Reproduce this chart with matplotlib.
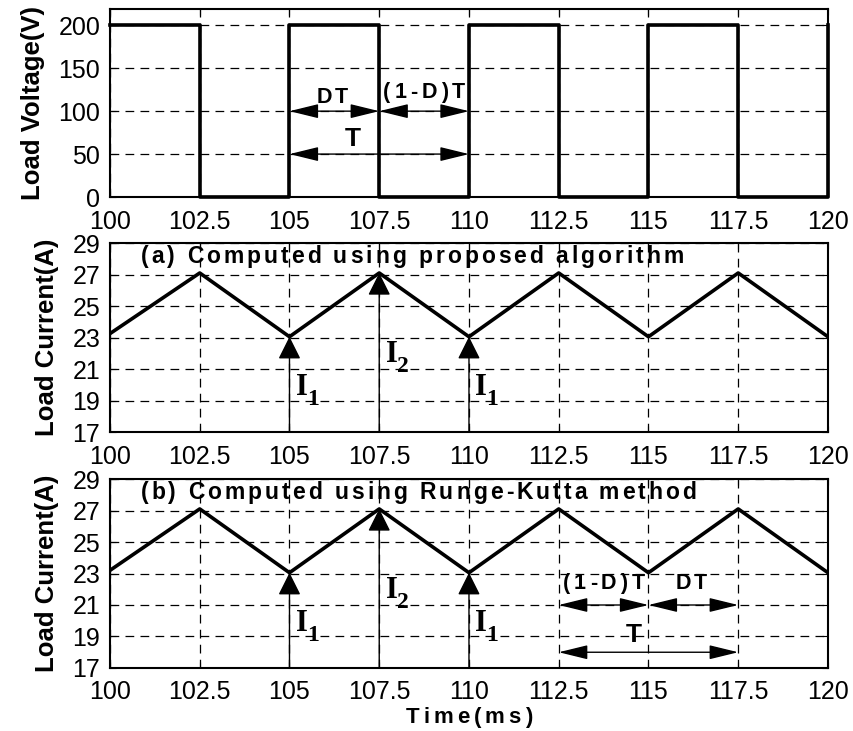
import numpy as np
import matplotlib
matplotlib.use("Agg")
from matplotlib import pyplot as plt
from matplotlib.transforms import ScaledTranslation

plt.rcParams['font.family'] = ['Liberation Sans', 'DejaVu Sans']

### data ###
time_v = [100, 102.5, 102.5, 105, 105, 107.5, 107.5, 110, 110,
          112.5, 112.5, 115, 115, 117.5, 117.5, 120, 120]
volt = [200, 200, 0, 0, 200, 200, 0, 0, 200,
        200, 0, 0, 200, 200, 0, 0, 200]

time_i = [100, 102.5, 105, 107.5, 110, 112.5, 115, 117.5, 120]
cur_a = [23.25, 27.1, 23.05, 27.1, 23.05, 27.1, 23.05, 27.1, 23.05]
cur_b = [23.2, 27.1, 23.05, 27.1, 23.05, 27.1, 23.05, 27.1, 23.05]

xticks = [100, 102.5, 105, 107.5, 110, 112.5, 115, 117.5, 120]
xticklabels = ['100', '102.5', '105', '107.5', '110', '112.5', '115', '117.5', '120']
vticks = [0, 50, 100, 150, 200]
iticks = [17, 19, 21, 23, 25, 27, 29]

fig = plt.figure(figsize=(8.54, 7.31), dpi=100)
ax_v = fig.add_axes([0.1288, 0.7305, 0.8407, 0.2572])
ax_a = fig.add_axes([0.1288, 0.409, 0.8407, 0.2585])
ax_b = fig.add_axes([0.1288, 0.0862, 0.8407, 0.2585])
renderer = fig.canvas.get_renderer()


def style(ax, yticks):
    ax.set_xlim(100, 120)
    ax.set_xticks(xticks)
    ax.set_xticklabels(xticklabels)
    ax.set_yticks(yticks)
    ax.tick_params(direction='in', top=True, right=True, labelsize=18,
                   length=4, pad=7)
    ax.tick_params(axis='x', pad=9)
    ax.grid(True, color='k', linestyle=(0, (7, 5)), linewidth=0.9)
    for s in ax.spines.values():
        s.set_linewidth(1.5)


### bold text with wide letter spacing, like the original ###
def spaced_text(ax, x, y, s, size, track, ha='left', trans=None):
    if trans is None:
        trans = ax.transData
    parts, widths = [], []
    for ch in s:
        t = ax.text(x, y, ch, fontsize=size, fontweight='bold', ha='left',
                    va='center', transform=trans)
        if ch == ' ':
            w = size * 0.278 * fig.dpi / 72.
        else:
            w = t.get_window_extent(renderer).width
        parts.append(t)
        widths.append(w)
    total = sum(widths) + track * (len(s) - 1)
    pos = -total / 2. if ha == 'center' else 0.
    for t, w in zip(parts, widths):
        t.set_transform(trans + ScaledTranslation(pos / fig.dpi, 0, fig.dpi_scale_trans))
        pos += w + track


def dbl_arrow(ax, x0, x1, y):
    ax.annotate('', xy=(x1, y), xytext=(x0, y),
                arrowprops=dict(arrowstyle='<|-|>,head_length=0.9,head_width=0.22',
                                mutation_scale=20, lw=1, color='k',
                                shrinkA=0, shrinkB=0))


def up_arrow(ax, x, y0, y1):
    ax.annotate('', xy=(x, y1), xytext=(x, y0),
                arrowprops=dict(arrowstyle='-|>,head_length=0.7,head_width=0.35',
                                mutation_scale=20, lw=1, color='k',
                                shrinkA=0, shrinkB=0))


def i_label(ax, x, y, n):
    ax.text(x, y, 'I', fontsize=22, fontweight='bold', family='Liberation Serif',
            ha='left', va='baseline')
    ax.annotate(str(n), xy=(x, y), xytext=(8, -7), textcoords='offset points',
                fontsize=17, fontweight='bold', family='Liberation Serif',
                ha='left', va='baseline')


# load voltage
ax_v.plot(time_v, volt, color='k', lw=2.6, clip_on=False)
style(ax_v, vticks)
ax_v.set_ylim(0, 219)
ax_v.set_ylabel('Load Voltage(V)', fontsize=18.5, fontweight='bold', labelpad=10)
dbl_arrow(ax_v, 105, 107.5, 100)
dbl_arrow(ax_v, 107.5, 110, 100)
dbl_arrow(ax_v, 105, 110, 50)
spaced_text(ax_v, 106.2, 116, 'DT', 15.5, 3, ha='center')
spaced_text(ax_v, 108.75, 122, '(1-D)T', 15.5, 4, ha='center')
ax_v.text(106.75, 68, 'T', fontsize=19, fontweight='bold', ha='center', va='center')

# (a) proposed algorithm
ax_a.plot(time_i, cur_a, color='k', lw=2.6)
style(ax_a, iticks)
ax_a.set_ylim(17, 29)
ax_a.set_ylabel('Load Current(A)', fontsize=18.5, fontweight='bold', labelpad=10)
spaced_text(ax_a, 100.85, 28.15, '(a) Computed using proposed algorithm', 16.5, 3)
up_arrow(ax_a, 105, 17, 23.05)
up_arrow(ax_a, 107.5, 17, 27.1)
up_arrow(ax_a, 110, 17, 23.05)
i_label(ax_a, 105.18, 19.35, 1)
i_label(ax_a, 107.68, 21.45, 2)
i_label(ax_a, 110.18, 19.35, 1)

# (b) Runge-Kutta
ax_b.plot(time_i, cur_b, color='k', lw=2.6)
style(ax_b, iticks)
ax_b.set_ylim(17, 29)
ax_b.set_ylabel('Load Current(A)', fontsize=18.5, fontweight='bold', labelpad=10)
spaced_text(ax_b, 100.85, 28.15, '(b) Computed using Runge-Kutta method', 16.5, 3)
spaced_text(ax_b, 0.5, -0.26, 'Time(ms)', 16, 4, ha='center', trans=ax_b.transAxes)
up_arrow(ax_b, 105, 17, 23.05)
up_arrow(ax_b, 107.5, 17, 27.1)
up_arrow(ax_b, 110, 17, 23.05)
i_label(ax_b, 105.18, 19.35, 1)
i_label(ax_b, 107.68, 21.45, 2)
i_label(ax_b, 110.18, 19.35, 1)
dbl_arrow(ax_b, 112.5, 115, 21)
dbl_arrow(ax_b, 115, 117.5, 21)
dbl_arrow(ax_b, 112.5, 117.5, 18)
spaced_text(ax_b, 113.75, 22.35, '(1-D)T', 15.5, 4, ha='center')
spaced_text(ax_b, 116.2, 22.35, 'DT', 15.5, 3, ha='center')
ax_b.text(114.6, 19.1, 'T', fontsize=19, fontweight='bold', ha='center', va='center')

fig.savefig('out.png', dpi=100)
